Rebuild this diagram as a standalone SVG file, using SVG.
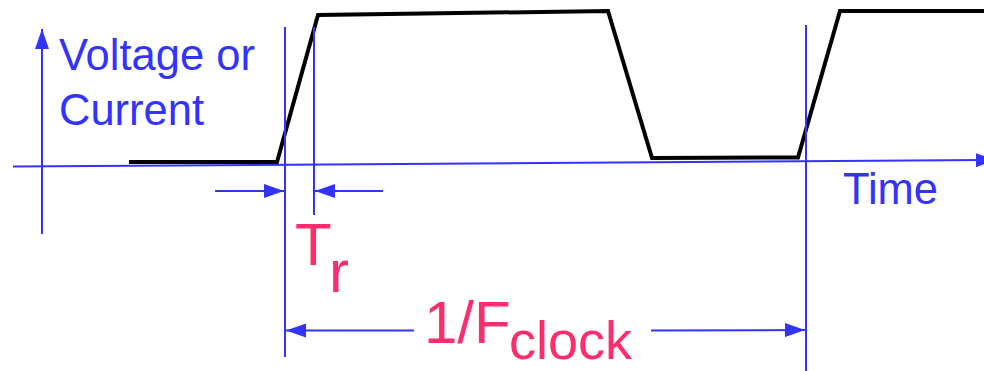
<svg xmlns="http://www.w3.org/2000/svg" width="984" height="371" viewBox="0 0 984 371">
<defs>
<style>
.ax{stroke:#3333FF;stroke-width:2;fill:none}
.bt{fill:#3333FF;font-family:"Liberation Sans",Arial,sans-serif;font-size:43.5px}
.pt{fill:#FF2D6E;font-family:"Liberation Sans",Arial,sans-serif}
.wave{stroke:#000;stroke-width:4;fill:none;stroke-linejoin:miter}
</style>
<marker id="ah" viewBox="0 0 20 14" refX="20" refY="7" markerWidth="20" markerHeight="14" markerUnits="userSpaceOnUse" orient="auto">
<path d="M0,0 L20,7 L0,14 Z" fill="#3333FF"/>
</marker>
</defs>
<rect width="984" height="371" fill="#fff"/>
<g id="waveform">
<polyline class="wave" points="129,162 277,162 318,15 608,11 652,158 798,157.5 840,11 984,11"/>
</g>
<g id="connectors">
<line class="ax" x1="42" y1="234" x2="42" y2="29" marker-end="url(#ah)"/>
<line class="ax" x1="13" y1="166.5" x2="996" y2="160" marker-end="url(#ah)"/>
<line class="ax" x1="285" y1="27" x2="285" y2="357"/>
<line class="ax" x1="314" y1="27" x2="314" y2="215"/>
<line class="ax" x1="806" y1="25" x2="806" y2="371"/>
<line class="ax" x1="215" y1="191" x2="284" y2="191" marker-end="url(#ah)"/>
<line class="ax" x1="383" y1="191" x2="315" y2="191" marker-end="url(#ah)"/>
<line class="ax" x1="414" y1="330.5" x2="286" y2="330.5" marker-end="url(#ah)"/>
<line class="ax" x1="651" y1="330.5" x2="805" y2="330" marker-end="url(#ah)"/>
</g>
<g id="labels">
<text class="bt" x="59" y="70">Voltage or</text>
<text class="bt" x="59" y="125">Current</text>
<text class="bt" x="843" y="204">Time</text>
<text class="pt" font-size="60" x="295" y="265">T</text>
<text class="pt" font-size="60" x="329" y="292">r</text>
<text class="pt" font-size="60" x="424" y="343">1/F</text>
<text class="pt" font-size="54" x="509" y="359">clock</text>
</g>
</svg>
